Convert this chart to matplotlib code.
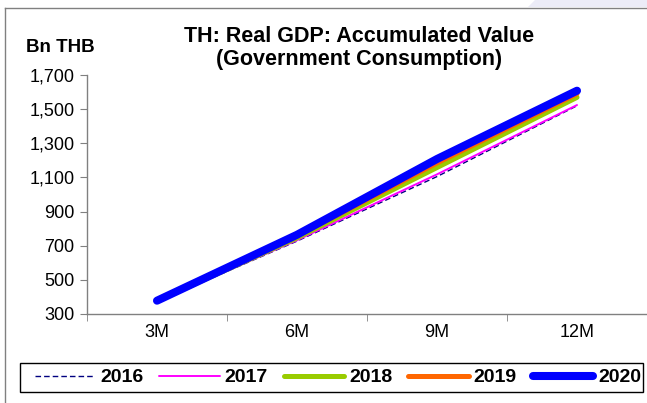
import matplotlib
matplotlib.use("Agg")
import matplotlib.pyplot as plt
from matplotlib.lines import Line2D
from matplotlib.patches import Polygon, Rectangle
from matplotlib.ticker import FuncFormatter, FixedLocator

plt.rcParams['font.family'] = ['Liberation Sans', 'DejaVu Sans']

# Accumulated real government consumption, Bn THB
periods = ["3M", "6M", "9M", "12M"]
years = ["2016", "2017", "2018", "2019", "2020"]
v2016 = [372, 727, 1105, 1520]
v2017 = [374, 732, 1118, 1524]
v2018 = [376, 746, 1158, 1569]
v2019 = [378, 756, 1185, 1590]
v2020 = [378, 764, 1208, 1608]
yticks = [300, 500, 700, 900, 1100, 1300, 1500, 1700]

series = [v2016, v2017, v2018, v2019, v2020]
styles = [
    dict(color="#000080", lw=1.0, ls=(0, (4, 2.2))),
    dict(color="#FF00FF", lw=1.4, ls="-"),
    dict(color="#99CC00", lw=3.6, ls="-"),
    dict(color="#FF6600", lw=3.6, ls="-"),
    dict(color="#0000FF", lw=5.8, ls="-"),
]

W, H = 647, 403
fig = plt.figure(figsize=(W / 100, H / 100), dpi=100)


def fx(px):
    return px / W


def fy(py):
    return 1 - py / H


# frame and corner decoration
fig.add_artist(Polygon([(fx(535), 1), (1, 1), (1, fy(7)), (fx(528), fy(7))],
                       closed=True, transform=fig.transFigure,
                       facecolor="#ECECF7", edgecolor="none", zorder=0))
fig.add_artist(Line2D([fx(4.5), fx(4.5)], [0, fy(7.5)], transform=fig.transFigure,
                      color="#808080", lw=1.0))
fig.add_artist(Line2D([fx(4.5), 1], [fy(7.5), fy(7.5)], transform=fig.transFigure,
                      color="#808080", lw=1.0))

ax = fig.add_axes([fx(87), fy(314), 1 - fx(87), fy(75) - fy(314)])

x = list(range(len(periods)))
for yr, vals, st in zip(years, series, styles):
    ax.plot(x, vals, label=yr, solid_capstyle="round", dash_capstyle="butt", **st)

ax.set_xlim(-0.5, len(periods) - 0.5)
ax.set_ylim(yticks[0], yticks[-1])
ax.set_yticks(yticks)
ax.yaxis.set_major_formatter(FuncFormatter(lambda v, p: f"{int(v):,}"))

ax.set_xticks(x)
ax.set_xticklabels(periods)
ax.tick_params(axis="x", which="major", length=0, pad=7)
ax.xaxis.set_minor_locator(FixedLocator([i - 0.5 for i in range(len(periods) + 1)]))
ax.tick_params(axis="x", which="minor", length=5, direction="out", color="#808080")
ax.tick_params(axis="y", length=5, direction="out", color="#808080", pad=4)
ax.tick_params(labelsize=13, labelcolor="black")

for s in ("top", "right"):
    ax.spines[s].set_visible(False)
for s in ("left", "bottom"):
    ax.spines[s].set_color("#808080")
    ax.spines[s].set_linewidth(1.0)
ax.set_facecolor("none")

fig.text(fx(359), fy(36), "TH: Real GDP: Accumulated Value", ha="center", va="center",
         fontsize=15.5, fontweight="bold")
fig.text(fx(359), fy(59), "(Government Consumption)", ha="center", va="center",
         fontsize=15.5, fontweight="bold")
fig.text(fx(60), fy(47), "Bn THB", ha="center", va="center",
         fontsize=13.5, fontweight="bold")

# legend box with the entries spread inside it
fig.add_artist(Rectangle((fx(20), fy(392)), fx(643) - fx(20), fy(363) - fy(392),
                         transform=fig.transFigure, facecolor="white",
                         edgecolor="black", lw=1.0, zorder=2))
leg = fig.legend(loc="center left", ncol=5, mode="expand",
                 bbox_to_anchor=(fx(35), fy(392), fx(641) - fx(35), fy(363) - fy(392)),
                 bbox_transform=fig.transFigure, frameon=False,
                 prop=dict(size=14, weight="bold"), handlelength=3.1,
                 handletextpad=0.25, columnspacing=0.6, borderaxespad=0,
                 borderpad=0)
leg.set_zorder(3)

fig.savefig("out.png", dpi=100)
